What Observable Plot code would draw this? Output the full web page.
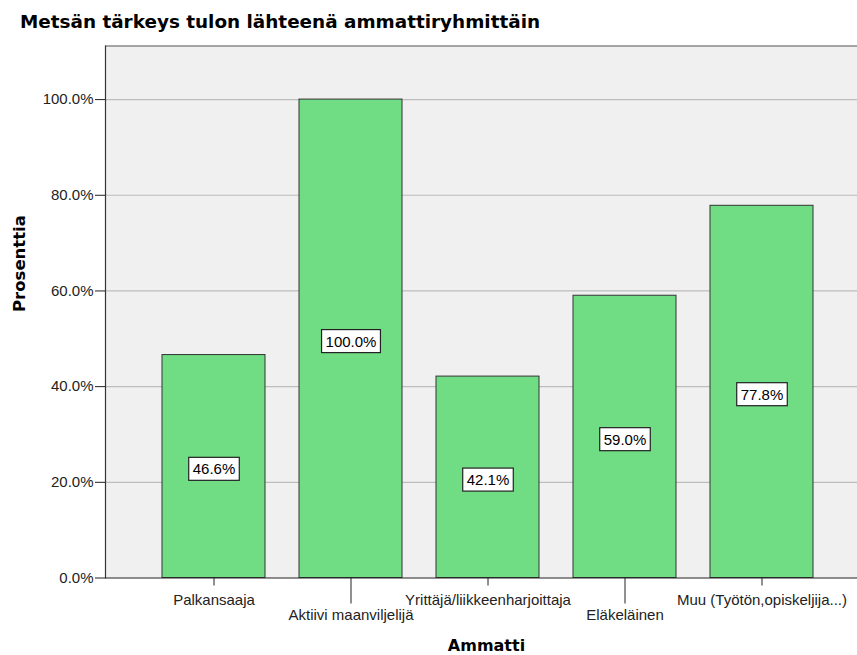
<!DOCTYPE html>
<html>
<head>
<meta charset="utf-8">
<script src="https://cdn.jsdelivr.net/npm/d3@7"></script>
<script src="https://cdn.jsdelivr.net/npm/@observablehq/plot@0.6"></script>
<style>
  body { margin: 0; background: #fff; }
  #title {
    font-family: "DejaVu Sans", sans-serif; font-weight: bold; font-size: 18.4px;
    height: 34px; box-sizing: border-box; padding: 10.6px 0 0 20px;
    line-height: normal; color: #000; white-space: nowrap;
  }
  #chart svg { display: block; }
</style>
</head>
<body>
<div id="title">Metsän tärkeys tulon lähteenä ammattiryhmittäin</div>
<div id="chart"></div>
<script>
const categories = ["Palkansaaja", "Aktiivi maanviljelijä", "Yrittäjä/liikkeenharjoittaja", "Eläkeläinen", "Muu (Työtön,opiskeljija...)"];
const values = [46.6, 100.0, 42.1, 59.0, 77.8];
const yTicks = [0, 20, 40, 60, 80, 100];
const yLabel = "Prosenttia";
const xLabel = "Ammatti";

const data = categories.map((c, i) => ({cat: c, value: values[i]}));
const yMax = 111.2;
const fmt = d => d.toFixed(1) + "%";
const row1 = categories.filter((c, i) => i % 2 === 0);
const row2 = categories.filter((c, i) => i % 2 === 1);

const chart = Plot.plot({
  width: 857,
  height: 621,
  marginLeft: 105,
  marginRight: 0,
  marginTop: 11.5,
  marginBottom: 77.5,
  style: {fontFamily: "'Liberation Sans', Arial, sans-serif", fontSize: "15px", color: "#222", background: "transparent"},
  x: {type: "band", domain: categories, range: [143.25, 830.75], paddingInner: 0.25, paddingOuter: 0.125},
  y: {domain: [0, yMax]},
  marks: [
    Plot.frame({fill: "#f0f0f0", stroke: "none"}),
    Plot.ruleY(yTicks.filter(d => d > 0), {stroke: "#bdbdbd", strokeWidth: 1.2}),
    Plot.ruleY([yMax], {stroke: "#8a8a8a", strokeWidth: 1.5}),
    Plot.barY(data, {x: "cat", y: "value", fill: "#70dc84", stroke: "#333", strokeWidth: 1}),
    Plot.ruleY([0], {stroke: "#222", strokeWidth: 1.2}),
    Plot.frame({anchor: "left", stroke: "#333", strokeWidth: 1.2}),
    Plot.axisY({ticks: yTicks, tickSize: 10, tickPadding: 2, tickFormat: fmt, label: null, fontSize: 15}),
    Plot.axisX({ticks: row1, tickSize: 8, tickPadding: 8, label: null, fontSize: 15}),
    Plot.axisX({ticks: row2, tickSize: 26, tickPadding: 5, label: null, fontSize: 15}),
    Plot.text(data, {x: "cat", y: d => d.value / 2, dy: 3, text: d => fmt(d.value), fontSize: 15, fill: "#000"}),
    Plot.text([yLabel], {frameAnchor: "left", text: d => d, rotate: -90, dx: -86, lineAnchor: "middle",
      fontFamily: "DejaVu Sans", fontWeight: "bold", fontSize: 16.5, fill: "#000"}),
    Plot.text([xLabel], {frameAnchor: "bottom", text: d => d, dx: 5, dy: 67.4, lineAnchor: "middle",
      fontFamily: "DejaVu Sans", fontWeight: "bold", fontSize: 16, fill: "#000"})
  ]
});

document.getElementById("chart").appendChild(chart);

// white boxes behind the value labels
d3.select(chart).selectAll('g[aria-label="text"] text').each(function() {
  const t = this.textContent;
  if (!/%$/.test(t)) return;
  const bb = this.getBBox();
  const r = document.createElementNS("http://www.w3.org/2000/svg", "rect");
  r.setAttribute("x", bb.x - 4);
  r.setAttribute("y", bb.y - 3);
  r.setAttribute("width", bb.width + 8);
  r.setAttribute("height", bb.height + 6);
  r.setAttribute("fill", "#fff");
  r.setAttribute("stroke", "#222");
  r.setAttribute("stroke-width", "1.2");
  const tr = this.getAttribute("transform");
  if (tr) r.setAttribute("transform", tr);
  this.parentNode.insertBefore(r, this);
});
</script>
</body>
</html>
